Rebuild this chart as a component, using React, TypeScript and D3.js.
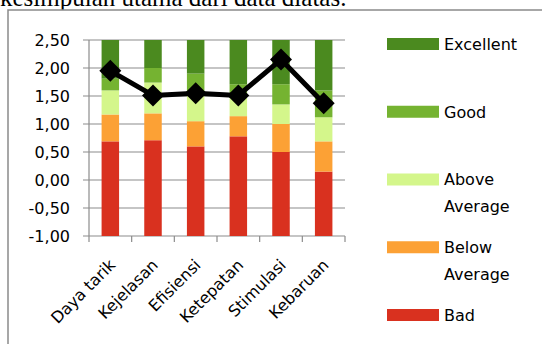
import { useEffect, useRef } from "react";
import { select, scaleLinear, scaleBand, stack, line as d3Line, formatLocale, range } from "d3";

const categories = ["Daya tarik", "Kejelasan", "Efisiensi", "Ketepatan", "Stimulasi", "Kebaruan"];

// segment heights, stacked upward from the axis minimum (-1,00)
const bad = [1.69, 1.71, 1.6, 1.78, 1.5, 1.15];
const belowAverage = [0.48, 0.48, 0.45, 0.36, 0.5, 0.54];
const aboveAverage = [0.43, 0.55, 0.45, 0.41, 0.35, 0.43];
const good = [0.21, 0.26, 0.4, 0.16, 0.36, 0.48];
const excellent = [0.69, 0.5, 0.6, 0.79, 0.79, 0.9];

const meanScore = [1.95, 1.51, 1.55, 1.51, 2.15, 1.37];

const yTicks = [-1, -0.5, 0, 0.5, 1, 1.5, 2, 2.5];

const seriesKeys = ["bad", "belowAverage", "aboveAverage", "good", "excellent"];
const seriesColors = ["#d9311f", "#fca135", "#d4f68b", "#75b331", "#4b8a1f"];
const legendItems = [
  { key: "excellent", lines: ["Excellent"] },
  { key: "good", lines: ["Good"] },
  { key: "aboveAverage", lines: ["Above", "Average"] },
  { key: "belowAverage", lines: ["Below", "Average"] },
  { key: "bad", lines: ["Bad"] },
];

const W = 542;
const H = 344;
const FONT = "'DejaVu Sans', sans-serif";

const idLocale = formatLocale({ decimal: ",", thousands: ".", grouping: [3], currency: ["", ""], minus: "-" });
const fmt = idLocale.format(".2f");

export default function App() {
  const svgRef = useRef<SVGSVGElement | null>(null);

  useEffect(() => {
    if (!svgRef.current) return;
    const svg = select(svgRef.current);
    svg.selectAll("*").remove();

    const left = 89;
    const right = 345;
    const yMin = yTicks[0];

    const x = scaleBand<string>().domain(categories).range([left, right]).paddingInner(0.59).paddingOuter(0.295);
    const xBand = scaleBand<string>().domain(categories).range([left, right]);
    const y = scaleLinear().domain([yMin, 2.5]).range([236, 40]);

    const rows = categories.map((c, i) => ({
      cat: c,
      bad: bad[i],
      belowAverage: belowAverage[i],
      aboveAverage: aboveAverage[i],
      good: good[i],
      excellent: excellent[i],
    }));
    const stacked = stack<any>().keys(seriesKeys)(rows);

    // top text from the surrounding document
    svg
      .append("text")
      .attr("x", 0)
      .attr("y", 6)
      .attr("font-family", "'Liberation Serif', 'Times New Roman', serif")
      .attr("font-size", 25)
      .attr("fill", "#000")
      .text("kesimpulan utama dari data diatas.");

    svg
      .append("rect")
      .attr("x", 8)
      .attr("y", 10)
      .attr("width", 600)
      .attr("height", 400)
      .attr("fill", "#fff")
      .attr("stroke", "#8a8a8a")
      .attr("stroke-width", 1.5);

    // gridlines + y ticks
    const gGrid = svg.append("g");
    gGrid
      .selectAll("line")
      .data(yTicks)
      .enter()
      .append("line")
      .attr("x1", left - 6)
      .attr("x2", right)
      .attr("y1", (d) => y(d))
      .attr("y2", (d) => y(d))
      .attr("stroke", "#8c8c8c")
      .attr("stroke-width", 1.2);

    gGrid
      .append("line")
      .attr("x1", left)
      .attr("x2", left)
      .attr("y1", y(2.5))
      .attr("y2", y(yMin))
      .attr("stroke", "#8c8c8c")
      .attr("stroke-width", 1.2);

    gGrid
      .selectAll("line.xt")
      .data(range(categories.length + 1))
      .enter()
      .append("line")
      .attr("class", "xt")
      .attr("x1", (i) => left + i * xBand.bandwidth())
      .attr("x2", (i) => left + i * xBand.bandwidth())
      .attr("y1", y(yMin))
      .attr("y2", y(yMin) + 6)
      .attr("stroke", "#8c8c8c")
      .attr("stroke-width", 1.2);

    svg
      .append("g")
      .selectAll("text")
      .data(yTicks)
      .enter()
      .append("text")
      .attr("x", 70)
      .attr("y", (d) => y(d))
      .attr("dy", "0.36em")
      .attr("text-anchor", "end")
      .attr("font-family", FONT)
      .attr("font-size", 16)
      .attr("fill", "#000")
      .text((d) => fmt(d));

    // stacked bars
    const gBars = svg.append("g");
    stacked.forEach((s, si) => {
      gBars
        .selectAll(`rect.s${si}`)
        .data(s)
        .enter()
        .append("rect")
        .attr("class", `s${si}`)
        .attr("x", (d: any) => x(d.data.cat) as number)
        .attr("width", x.bandwidth())
        .attr("y", (d: any) => y(d[1] + yMin))
        .attr("height", (d: any) => y(d[0] + yMin) - y(d[1] + yMin))
        .attr("fill", seriesColors[si]);
    });

    // line with diamond markers
    const cx = (i: number) => (xBand(categories[i]) as number) + xBand.bandwidth() / 2;
    const lineGen = d3Line<number>()
      .x((_, i) => cx(i))
      .y((d) => y(d));

    svg
      .append("path")
      .attr("d", lineGen(meanScore))
      .attr("fill", "none")
      .attr("stroke", "#000")
      .attr("stroke-width", 5)
      .attr("stroke-linejoin", "round");

    const r = 11;
    svg
      .append("g")
      .selectAll("path")
      .data(meanScore)
      .enter()
      .append("path")
      .attr("d", (d, i) => {
        const px = cx(i);
        const py = y(d);
        return `M${px},${py - r}L${px + r},${py}L${px},${py + r}L${px - r},${py}Z`;
      })
      .attr("fill", "#000");

    // rotated category labels
    svg
      .append("g")
      .selectAll("text")
      .data(categories)
      .enter()
      .append("text")
      .attr("transform", (_, i) => `translate(${cx(i) + 6},266) rotate(-45)`)
      .attr("text-anchor", "end")
      .attr("font-family", FONT)
      .attr("font-size", 16)
      .attr("fill", "#000")
      .text((d) => d);

    // legend
    const gLegend = svg.append("g");
    legendItems.forEach((item, i) => {
      const cy = 44 + i * 67.75;
      const ci = seriesKeys.indexOf(item.key);
      gLegend
        .append("rect")
        .attr("x", 387)
        .attr("y", cy - 6)
        .attr("width", 52)
        .attr("height", 12)
        .attr("fill", seriesColors[ci]);
      item.lines.forEach((t, li) => {
        gLegend
          .append("text")
          .attr("x", 444)
          .attr("y", cy + li * 26.5)
          .attr("dy", "0.36em")
          .attr("font-family", FONT)
          .attr("font-size", 16)
          .attr("fill", "#000")
          .text(t);
      });
    });
  }, []);

  return (
    <div style={{ position: "absolute", left: 0, top: 0 }}>
      <svg ref={svgRef} width={W} height={H} style={{ display: "block" }} />
    </div>
  );
}
